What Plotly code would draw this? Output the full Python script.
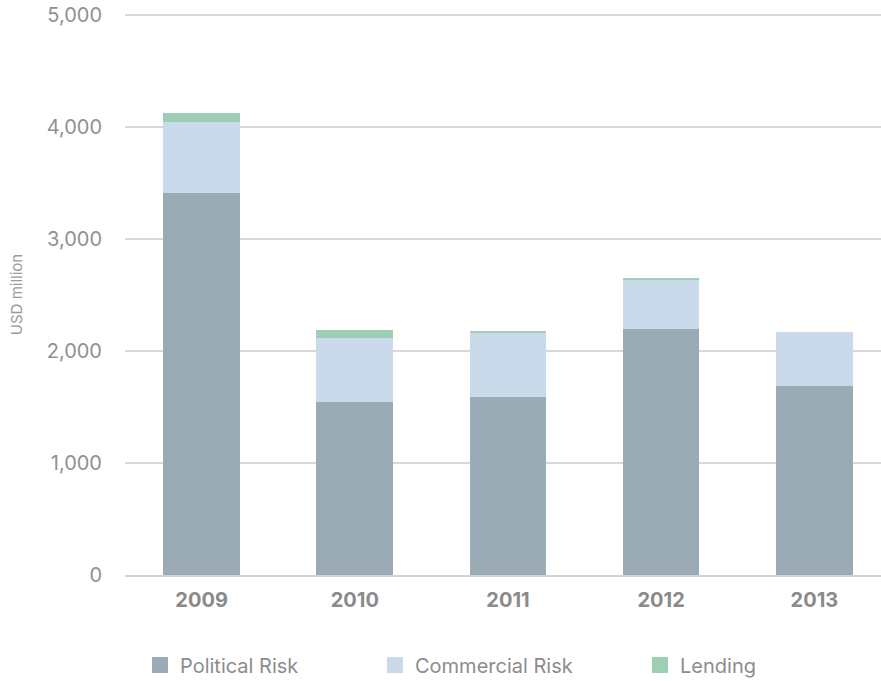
import plotly.graph_objects as go

years = ["2009", "2010", "2011", "2012", "2013"]
political = [3410, 1545, 1585, 2195, 1690]
commercial = [635, 575, 575, 440, 480]
lending = [80, 72, 20, 10, 0]

series_names = ["Political Risk", "Commercial Risk", "Lending"]
colors = ["#9aabb5", "#cbdaeb", "#9dcfb4"]
legend_ids = ["legend", "legend2", "legend3"]
legend_x_px = [140, 375, 640]

FONT = "Inter, Liberation Sans, Arial, sans-serif"

fig = go.Figure()
for name, vals, col, lid in zip(series_names, [political, commercial, lending], colors, legend_ids):
    fig.add_trace(go.Bar(x=years, y=vals, name=name, marker=dict(color=col, line=dict(width=0)),
                         width=0.5, showlegend=False))
    # legend proxy with a larger square symbol
    fig.add_trace(go.Scatter(x=[None], y=[None], mode="markers", name=name, legend=lid,
                             marker=dict(symbol="square", size=17, color=col), showlegend=True))

legend_common = dict(orientation="h", xref="container", yref="container", y=0.0235,
                     yanchor="middle", xanchor="left", font=dict(size=20, color="#8c8c8c", family=FONT),
                     itemwidth=30, bgcolor="rgba(0,0,0,0)")
layout_legends = {}
for lid, xp in zip(legend_ids, legend_x_px):
    layout_legends[lid] = dict(legend_common, x=xp / 881)

fig.update_layout(
    barmode="stack",
    width=881, height=681,
    margin=dict(l=125, r=0, t=14, b=106, autoexpand=False),
    paper_bgcolor="white", plot_bgcolor="white",
    font=dict(family=FONT, color="#8c8c8c"),
    showlegend=True,
    xaxis=dict(type="category", range=[-0.5, 4.435], showgrid=False,
               showline=True, linecolor="#d3d3d3", linewidth=2,
               tickfont=dict(size=20, color="#8a8a8a", family=FONT, weight="bold"),
               ticks="", ticklabelstandoff=6),
    yaxis=dict(range=[0, 5009], tickvals=[0, 1000, 2000, 3000, 4000, 5000],
               tickformat=",d", showgrid=True, gridcolor="#d8d8d8", gridwidth=1.5,
               zeroline=False, showline=False, ticks="",
               tickfont=dict(size=20, color="#909090", family=FONT), ticklabelstandoff=22,
               title=dict(text="USD million", font=dict(size=15, color="#9a9a9a", family=FONT), standoff=20)),
    **layout_legends,
)

fig.write_html("out.html", config={"displayModeBar": False},
               post_script="document.body.style.margin='0';document.body.style.overflow='hidden';")
